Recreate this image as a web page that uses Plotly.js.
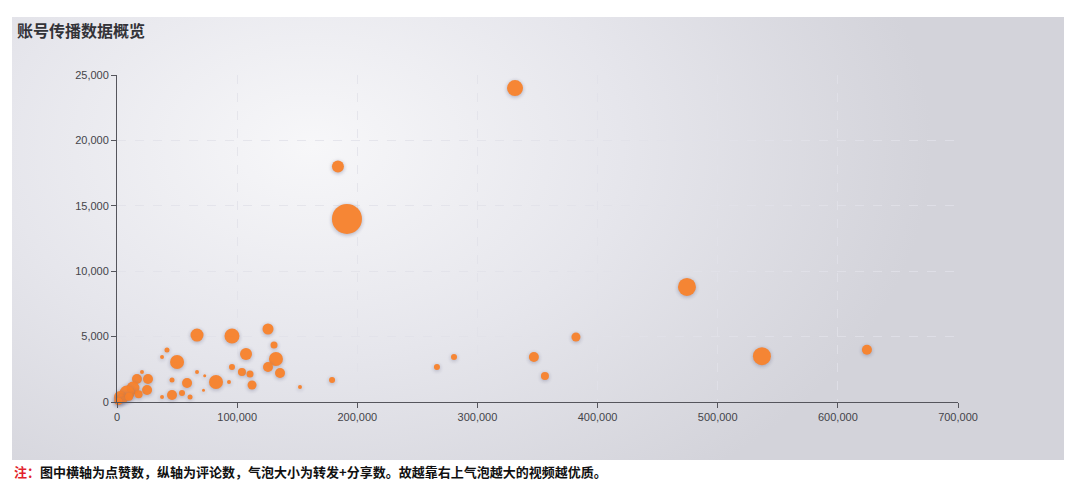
<!DOCTYPE html>
<html>
<head>
<meta charset="utf-8">
<script src="https://cdn.plot.ly/plotly-3.0.1.min.js"></script>
<style>
  html, body { margin: 0; padding: 0; background: #ffffff; }
  #wrap { position: relative; width: 1080px; height: 494px; }
  #panel {
    position: absolute; left: 12px; top: 17px; width: 1052px; height: 443px;
    background: radial-gradient(ellipse 620px 420px at 300px 130px, #f7f7f9 0%, #e6e6ec 50%, #d3d3da 100%);
  }
  #chart { position: absolute; left: 0; top: 0; width: 1080px; height: 494px; }
  #chart .scatterlayer .point { filter: drop-shadow(0 1px 2px rgba(110, 110, 140, 0.55)); }
</style>
</head>
<body>
<div id="wrap">
  <div id="panel"></div>
  <div id="chart"></div>
</div>
<script>
// 点赞数 (x), 评论数 (y), 转发+分享数 (bubble size)
const likes = [
  191400, 331300, 183900, 474400, 536800, 624200, 382000, 347000, 356200, 280500, 266300,
  66600, 95700, 125700, 130700, 107400, 132300, 125700, 95700, 104000, 110700, 135700,
  82400, 93200, 112400, 152300, 179000, 66600, 73000, 72000,
  41600, 37500, 50000, 16600, 25800, 45800, 58300, 20800, 13300, 8300, 2500,
  25000, 37500, 45800, 54100, 60800,
  1000, 4000, 6000, 1500, 10000, 18000
];
const comments = [
  14000, 24000, 18000, 8800, 3500, 4000, 4970, 3440, 1990, 3440, 2680,
  5120, 5050, 5580, 4360, 3670, 3290, 2680, 2680, 2290, 2140, 2220,
  1530, 1530, 1300, 1150, 1680, 2290, 2000, 900,
  3975, 3440, 3060, 1760, 1760, 1680, 1450, 2290, 1070, 690, 380,
  920, 380, 535, 690, 380,
  100, 250, 150, 50, 400, 600
];
const shares = [
  9000, 2560, 1440, 3240, 3240, 1000, 810, 1000, 640, 360, 360,
  1690, 2250, 1210, 490, 1440, 1960, 1000, 360, 640, 490, 1000,
  1960, 160, 810, 160, 360, 160, 90, 90,
  250, 160, 1960, 1000, 1000, 250, 1000, 160, 1690, 2250, 1440,
  1000, 160, 1000, 360, 250,
  640, 810, 360, 490, 640, 640
];

const xTicks = [0, 100000, 200000, 300000, 400000, 500000, 600000, 700000];
const yTicks = [0, 5000, 10000, 15000, 20000, 25000];

const trace = {
  x: likes,
  y: comments,
  mode: 'markers',
  type: 'scatter',
  cliponaxis: false,
  hoverinfo: 'x+y',
  marker: {
    size: shares,
    sizemode: 'area',
    sizeref: 20,
    color: '#f7812b',
    opacity: 0.95,
    line: { width: 0 }
  }
};

const axisCommon = {
  showline: true,
  linecolor: '#55555c',
  linewidth: 1,
  ticks: 'outside',
  ticklen: 5,
  tickcolor: '#55555c',
  tickfont: { family: 'Liberation Sans, Arial, sans-serif', size: 11, color: '#44444a' },
  tickformat: ',d',
  gridcolor: 'rgba(225, 225, 232, 0.8)',
  griddash: 'dash',
  gridwidth: 1,
  zeroline: false,
  fixedrange: true
};

const layout = {
  width: 1080,
  height: 494,
  paper_bgcolor: 'rgba(0,0,0,0)',
  plot_bgcolor: 'rgba(0,0,0,0)',
  margin: { l: 117, r: 122, t: 75, b: 92 },
  showlegend: false,
  title: {
    text: '<b>账号传播数据概览</b>',
    font: { family: 'Noto Sans CJK SC, sans-serif', size: 16, color: '#333338' },
    x: 17 / 1080,
    xanchor: 'left',
    y: 1 - 31 / 494,
    yanchor: 'middle'
  },
  xaxis: Object.assign({}, axisCommon, {
    range: [0, 700000],
    tickvals: xTicks
  }),
  yaxis: Object.assign({}, axisCommon, {
    range: [0, 25000],
    tickvals: yTicks
  }),
  annotations: [{
    xref: 'paper', yref: 'paper',
    x: -105 / 841, y: -69 / 327,
    xanchor: 'left', yanchor: 'middle',
    showarrow: false,
    text: '<b><span style="color:#e2222b">注：</span>图中横轴为点赞数，纵轴为评论数，气泡大小为转发+分享数。故越靠右上气泡越大的视频越优质。</b>',
    font: { family: 'Noto Sans CJK SC, sans-serif', size: 13, color: '#111111' }
  }]
};

Plotly.newPlot('chart', [trace], layout, { displayModeBar: false, staticPlot: false });
</script>
</body>
</html>
